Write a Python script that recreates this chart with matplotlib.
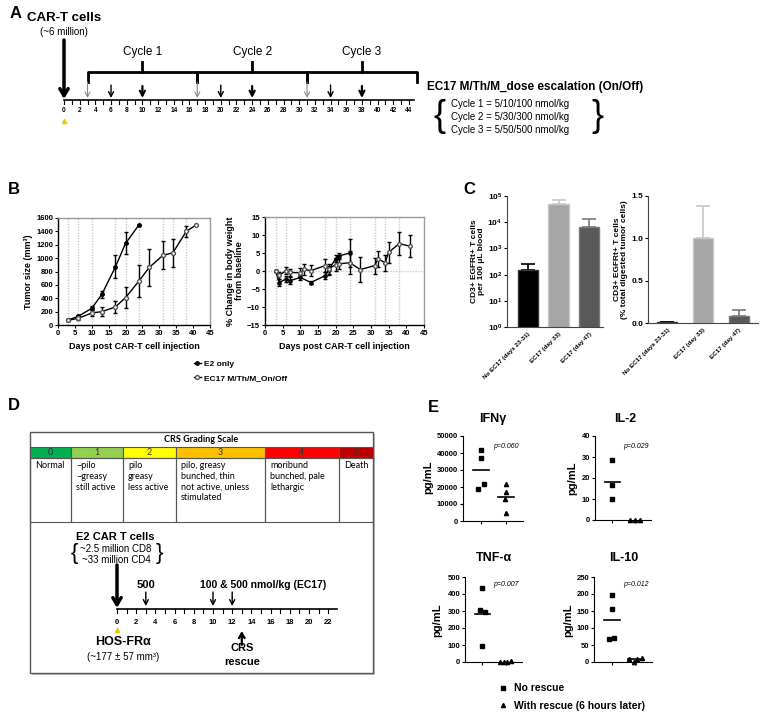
import numpy as np
import matplotlib
matplotlib.use("Agg")
import matplotlib.pyplot as plt
from matplotlib.patches import Rectangle
from matplotlib.lines import Line2D
from matplotlib.ticker import NullLocator

plt.rcParams['font.family'] = ['Liberation Sans', 'DejaVu Sans']
plt.rcParams['font.weight'] = 'bold'
plt.rcParams['axes.labelweight'] = 'bold'
plt.rcParams['mathtext.fontset'] = 'custom'
plt.rcParams['mathtext.rm'] = 'Liberation Sans:bold'
plt.rcParams['mathtext.bf'] = 'Liberation Sans:bold'
plt.rcParams['mathtext.it'] = 'Liberation Sans:italic'
plt.rcParams['mathtext.default'] = 'rm'

# ---------------- data ----------------
# A: dosing schedule
sched_days = list(range(0, 45))
dose_days = [3, 6, 10, 17, 20, 24, 31, 34, 38]
dose_rank = [0, 1, 2, 0, 1, 2, 0, 1, 2]          # 5 nmol / mid / high dose
cycle_start = [3, 17, 31]
cycle_end = [17, 31, 45]
cycle_names = ['Cycle 1', 'Cycle 2', 'Cycle 3']
cycle_doses = ['Cycle 1 = 5/10/100 nmol/kg',
               'Cycle 2 = 5/30/300 nmol/kg',
               'Cycle 3 = 5/50/500 nmol/kg']

# B: tumour size
tum_days_e2 = [3, 6, 10, 13, 17, 20, 24]
tum_e2 = [75, 130, 250, 460, 870, 1220, 1500]
tum_e2_err = [10, 20, 30, 50, 170, 165, 0]
tum_days_ec = [3, 6, 10, 13, 17, 20, 24, 27, 31, 34, 38, 41]
tum_ec = [70, 100, 180, 200, 270, 410, 660, 860, 1040, 1080, 1400, 1500]
tum_ec_err = [10, 20, 40, 65, 95, 155, 240, 270, 210, 210, 80, 0]

# B: body weight
bw_days_e2 = [3, 4, 6, 7, 10, 13, 17, 18, 20, 21, 24]
bw_e2 = [0, -3.2, -2.2, -2.7, -1.8, -3.2, -1.3, 0.3, 3.4, 4.2, 5.0]
bw_e2_err = [0.2, 0.9, 0.8, 0.9, 0.7, 0.4, 1.0, 1.0, 1.0, 0.8, 3.8]
bw_days_ec = [3, 4, 6, 7, 10, 11, 13, 17, 18, 20, 21, 24, 27, 31, 32, 34, 35, 38, 41]
bw_ec = [0, -1.2, 0.1, -0.4, -0.5, 0.5, 0.1, 1.5, 0.5, 1.8, 2.0, 2.3, 0.4, 1.5, 3.4, 2.3, 5.2, 7.6, 6.9]
bw_ec_err = [0.2, 0.9, 0.9, 1.0, 1.3, 1.5, 1.5, 1.9, 1.5, 1.8, 1.5, 3.2, 3.4, 2.2, 2.2, 2.2, 2.9, 3.2, 3.0]

# C: CAR-T persistence
c_groups = ['No EC17 (days 23-31)', 'EC17 (day 33)', 'EC17 (day 47)']
c_blood = [150, 50000, 6500]
c_blood_err = [100, 20000, 6500]
c_tumor = [0.01, 1.0, 0.08]
c_tumor_err = [0.005, 0.38, 0.07]
c_colors = ['#000000', '#a6a6a6', '#595959']
c_edges = ['#333333', '#c8c8c8', '#7a7a7a']

# D: CRS grading scale
crs_grades = ['0', '1', '2', '3', '4', '5']
crs_colors = ['#00b050', '#92d050', '#ffff00', '#ffc000', '#ff0000', '#c00000']
crs_signs = ['Normal', '~pilo\n~greasy\nstill active', 'pilo\ngreasy\nless active',
             'pilo, greasy\nbunched, thin\nnot active, unless\nstimulated',
             'moribund\nbunched, pale\nlethargic', 'Death']
d_days = list(range(0, 23))
d_dose_days = [3, 10, 12]
d_rescue_day = 13

# E: cytokines
cyto_names = ['IFNγ', 'IL-2', 'TNF-α', 'IL-10']
cyto_no = [[41500, 37000, 19000, 21500], [28.5, 16.5, 10], [435, 305, 295, 95], [198, 157, 72, 67]]
cyto_no_x = [[0, 0, -0.12, 0.12], [0, 0, 0], [0, -0.12, 0.12, 0], [0, 0, 0.1, -0.1]]
cyto_res = [[22000, 17000, 13000, 5000], [0, 0, 0], [0, 0, 0, 5], [10, 0, 10, 12]]
cyto_res_x = [[0, 0, -0.05, 0], [-0.2, 0, 0.2], [-0.25, -0.08, 0.06, 0.24], [-0.29, -0.08, 0.08, 0.29]]
cyto_p = ['p=0.060', 'p=0.029', 'p=0.007', 'p=0.012']
cyto_ymax = [50000, 40, 500, 250]
cyto_step = [10000, 10, 100, 50]

# ---------------- figure ----------------
W, H = 764, 716
fig = plt.figure(figsize=(W / 100, H / 100), dpi=100)


def px_axes(x0, y0, x1, y1):
    return fig.add_axes([x0 / W, 1 - y1 / H, (x1 - x0) / W, (y1 - y0) / H])


cv = px_axes(0, 0, W, H)
cv.set_xlim(0, W)
cv.set_ylim(H, 0)
cv.axis('off')

for lab, x, y in [('A', 10, 14), ('B', 8, 190), ('C', 463, 190), ('D', 8, 405), ('E', 428, 407)]:
    cv.text(x, y, lab, fontsize=12, va='center', ha='left')

# ---- A ----
axA = px_axes(0, 0, W, 160)
d0, ppd = 64, 7.84
axA.set_xlim(-d0 / ppd, (W - d0) / ppd)
axA.set_ylim(160, 0)
axA.axis('off')
axA.plot([0, 44.6], [100, 100], color='k', lw=1.2)
for d in sched_days:
    axA.plot([d, d], [100, 104], color='k', lw=0.8)
    if d % 2 == 0:
        axA.text(d, 111, str(d), ha='center', va='center', fontsize=4.8)
axA.plot(0, 121, '^', color='#e8c800', ms=3)
arrow_col = ['#8a8a8a', 'k', 'k']
arrow_lw = [0.8, 1.0, 1.6]
arrow_top = [82, 85, 86]
for d, r in zip(dose_days, dose_rank):
    axA.annotate('', xy=(d, 98), xytext=(d, arrow_top[r]),
                 arrowprops=dict(arrowstyle='->,head_length=0.35,head_width=0.18',
                                 color=arrow_col[r], lw=arrow_lw[r], shrinkA=0, shrinkB=0))
for s, e, name in zip(cycle_start, cycle_end, cycle_names):
    m = (s + e) / 2
    axA.plot([s, s, e, e], [82, 72, 72, 82], color='k', lw=2)
    axA.plot([m, m], [72, 62], color='k', lw=2)
    axA.text(m, 52, name, ha='center', va='center', fontsize=8.5, fontweight='normal')
axA.annotate('', xy=(0, 99), xytext=(0, 40),
             arrowprops=dict(arrowstyle='->,head_length=0.5,head_width=0.3',
                             color='k', lw=2.5, shrinkA=0, shrinkB=0))
cv.text(64, 18, 'CAR-T cells', ha='center', va='center', fontsize=9.5)
cv.text(64, 32, '(~6 million)', ha='center', va='center', fontsize=7, fontweight='normal')
cv.text(427, 87, 'EC17 M/Th/M_dose escalation (On/Off)', va='center', fontsize=8.5)
cv.text(440, 117, '{', va='center', ha='center', fontsize=26, fontweight='normal')
cv.text(597, 117, '}', va='center', ha='center', fontsize=26, fontweight='normal')
for i, s in enumerate(cycle_doses):
    cv.text(451, 104 + 13 * i, s, va='center', fontsize=7, fontweight='normal')


# ---- B ----
def style_box(ax):
    for side in ['left', 'bottom']:
        ax.spines[side].set_color('k')
        ax.spines[side].set_linewidth(1)
    for side in ['top', 'right']:
        ax.spines[side].set_color('#9a9a9a')
        ax.spines[side].set_linewidth(1)
    ax.tick_params(labelsize=5.5, length=2.5, width=0.8, pad=1)


axB1 = px_axes(58, 218, 210, 325)
axB2 = px_axes(265, 217, 424, 325)
for ax in (axB1, axB2):
    for d in dose_days:
        ax.axvline(d, color='#c8c8c8', lw=1, ls=(0, (1, 1)), zorder=0)
    ax.set_xlim(0, 45)
    ax.set_xticks(range(0, 46, 5))
    ax.set_xlabel('Days post CAR-T cell injection', fontsize=6.5, labelpad=4)
    style_box(ax)

axB1.errorbar(tum_days_e2, tum_e2, yerr=tum_e2_err, fmt='-o', color='k', ms=2.5,
              lw=1, elinewidth=1, capsize=1.5, mfc='k')
axB1.errorbar(tum_days_ec, tum_ec, yerr=tum_ec_err, fmt='-o', color='k', ms=2.8,
              lw=1, elinewidth=1, capsize=1.5, mfc='white', mec='#555555')
axB1.set_ylim(0, 1600)
axB1.set_yticks(range(0, 1601, 200))
axB1.set_ylabel('Tumor size (mm³)', fontsize=6.5, labelpad=2)

axB2.axhline(0, color='#c8c8c8', lw=1, ls=(0, (1, 1)), zorder=0)
axB2.errorbar(bw_days_e2, bw_e2, yerr=bw_e2_err, fmt='-o', color='k', ms=2.3,
              lw=1, elinewidth=1, capsize=1.5, mfc='k')
axB2.errorbar(bw_days_ec, bw_ec, yerr=bw_ec_err, fmt='-o', color='k', ms=2.6,
              lw=1, elinewidth=1, capsize=1.5, mfc='white', mec='#555555')
axB2.set_ylim(-15, 15)
axB2.set_yticks(range(-15, 16, 5))
axB2.set_ylabel('% Change in body weight\nfrom baseline', fontsize=6.5, labelpad=2, linespacing=1.0)

b_handles = [Line2D([], [], color='k', marker='o', ms=2.5, lw=1, mfc='k'),
             Line2D([], [], color='k', marker='o', ms=2.8, lw=1, mfc='white', mec='#555555')]
fig.legend(b_handles, ['E2 only', 'EC17 M/Th/M_On/Off'], loc='center left',
           bbox_to_anchor=(194 / W, 1 - 371 / H), frameon=False, fontsize=6,
           handlelength=0.8, handletextpad=0.4, labelspacing=0.8, borderpad=0, borderaxespad=0)

# ---- C ----
axC1 = px_axes(507, 196, 603, 327)
axC2 = px_axes(648, 196, 758, 323)
for i in range(3):
    axC1.bar(i, c_blood[i], width=0.68, color=c_colors[i], edgecolor=c_edges[i], lw=1, zorder=2)
    axC1.errorbar(i, c_blood[i], yerr=[[0], [c_blood_err[i]]], color=c_edges[i] if i else 'k',
                  capsize=5, lw=1.2, capthick=1.2, zorder=1)
    axC2.bar(i, c_tumor[i], width=0.56, color=c_colors[i], edgecolor=c_edges[i], lw=1, zorder=2)
    axC2.errorbar(i, c_tumor[i], yerr=[[0], [c_tumor_err[i]]], color=c_edges[i] if i else 'k',
                  capsize=5, lw=1.2, capthick=1.2, zorder=1)
axC1.set_yscale('log')
axC1.set_ylim(1, 1e5)
axC1.set_yticks([10 ** k for k in range(6)])
axC1.set_yticklabels(['$10^{%d}$' % k for k in range(6)])
axC1.yaxis.set_minor_locator(NullLocator())
axC1.set_xlim(-0.69, 2.46)
axC1.set_ylabel('CD3+ EGFRt+ T cells\nper 100 μL blood', fontsize=6, labelpad=2, linespacing=1.0)
axC2.set_ylim(0, 1.5)
axC2.set_yticks([0, 0.5, 1.0, 1.5])
axC2.set_yticklabels(['0.0', '0.5', '1.0', '1.5'])
axC2.set_xlim(-0.53, 2.53)
axC2.set_ylabel('CD3+ EGFRt+ T cells\n(% total digested tumor cells)', fontsize=6, labelpad=2,
                linespacing=1.0)
for ax in (axC1, axC2):
    ax.spines['top'].set_visible(False)
    ax.spines['right'].set_visible(False)
    ax.spines['left'].set_color('#444444')
    ax.spines['bottom'].set_color('#444444')
    ax.tick_params(axis='y', labelsize=6, length=2.5, width=0.8, pad=1)
    ax.set_xticks(range(3))
    ax.set_xticklabels(c_groups, rotation=45, ha='right', rotation_mode='anchor', fontsize=4.5)
    ax.tick_params(axis='x', length=0, pad=3)

# ---- D ----
cv.add_patch(Rectangle((32, 434), 343, 241, facecolor='#c4c4c4', lw=0))
cv.add_patch(Rectangle((30, 432), 343, 241, facecolor='white', edgecolor='#555555', lw=1))
cv.text(201, 440, 'CRS Grading Scale', ha='center', va='center', fontsize=6.5,
        family=['Lato', 'DejaVu Sans'], fontweight='bold')
col_edges = [30, 71, 123, 176, 265, 339, 373]
for i in range(6):
    x0, x1 = col_edges[i], col_edges[i + 1]
    cv.add_patch(Rectangle((x0, 447), x1 - x0, 11, facecolor=crs_colors[i], edgecolor='#555555', lw=0.8))
    cv.text((x0 + x1) / 2, 452.5, crs_grades[i], ha='center', va='center', fontsize=6.5,
            family=['Lato', 'DejaVu Sans'], fontweight='normal', color='#333333')
    cv.add_patch(Rectangle((x0, 458), x1 - x0, 64, facecolor='none', edgecolor='#555555', lw=0.8))
    cv.text(x0 + 5, 461, crs_signs[i], ha='left', va='top', fontsize=6.5, linespacing=1.25,
            family=['Lato', 'DejaVu Sans'], fontweight='normal')

axD = px_axes(0, 523, W, 673)
dd0, dppd = 117, 9.6
axD.set_xlim(-dd0 / dppd, (W - dd0) / dppd)
axD.set_ylim(673, 523)
axD.axis('off')
axD.plot([0, 22.9], [609, 609], color='k', lw=1.2)
for d in d_days:
    axD.plot([d, d], [609, 613], color='k', lw=0.8)
    if d % 2 == 0:
        axD.text(d, 623, str(d), ha='center', va='center', fontsize=5.5)
axD.plot(0, 630, '^', color='#e8c800', ms=3)
axD.annotate('', xy=(0, 608), xytext=(0, 565),
             arrowprops=dict(arrowstyle='->,head_length=0.5,head_width=0.3',
                             color='k', lw=2.5, shrinkA=0, shrinkB=0))
for d in d_dose_days:
    axD.annotate('', xy=(d, 606), xytext=(d, 592),
                 arrowprops=dict(arrowstyle='->,head_length=0.35,head_width=0.18',
                                 color='k', lw=1, shrinkA=0, shrinkB=0))
axD.annotate('', xy=(d_rescue_day, 631), xytext=(d_rescue_day, 645),
             arrowprops=dict(arrowstyle='->,head_length=0.35,head_width=0.2',
                             color='k', lw=1.6, shrinkA=0, shrinkB=0))
axD.text(d_rescue_day, 648, 'CRS', ha='center', va='center', fontsize=8)
axD.text(d_rescue_day, 662, 'rescue', ha='center', va='center', fontsize=8)
axD.text(d_dose_days[0], 585, '500', ha='center', va='center', fontsize=8)
cv.text(263, 585, '100 & 500 nmol/kg (EC17)', ha='center', va='center', fontsize=7.5)
cv.text(115, 537, 'E2 CAR T cells', ha='center', va='center', fontsize=8)
cv.text(116, 549, '~2.5 million CD8', ha='center', va='center', fontsize=7, fontweight='normal')
cv.text(116, 560, '~33 million CD4', ha='center', va='center', fontsize=7, fontweight='normal')
cv.text(74, 554, '{', ha='center', va='center', fontsize=16, fontweight='normal')
cv.text(159, 554, '}', ha='center', va='center', fontsize=16, fontweight='normal')
cv.text(123, 642, 'HOS-FRα', ha='center', va='center', fontsize=9)
cv.text(123, 657, '(~177 ± 57 mm³)', ha='center', va='center', fontsize=7, fontweight='normal')

# ---- E ----
e_boxes = [(463, 436, 523, 521), (595, 436, 651, 520), (465, 577, 522, 662), (594, 577, 652, 662)]
e_title_pos = [(493, 419), (625, 419), (494, 558), (624, 558)]
e_p_pos = [(493, 446), (623, 446), (493, 585), (623, 585)]
e_ylab_pos = [(428, 477), (572, 478), (437, 620), (568, 620)]
for k in range(4):
    ax = px_axes(*e_boxes[k])
    ax.set_facecolor('none')
    ax.plot(cyto_no_x[k], cyto_no[k], 's', color='k', ms=3.5, clip_on=False)
    ax.plot(1 + np.array(cyto_res_x[k]), cyto_res[k], '^', color='k', ms=3, clip_on=False)
    for g, vals in enumerate([cyto_no[k], cyto_res[k]]):
        m = np.mean(vals)
        if m > 0.02 * cyto_ymax[k]:
            ax.plot([g - 0.33, g + 0.33], [m, m], color='k', lw=1.2)
    ax.set_xlim(-0.75, 1.7)
    ax.set_ylim(0, cyto_ymax[k])
    ax.set_yticks(np.arange(0, cyto_ymax[k] + 1, cyto_step[k]))
    ax.set_xticks([0, 1])
    ax.set_xticklabels([])
    ax.spines['top'].set_visible(False)
    ax.spines['right'].set_visible(False)
    ax.tick_params(labelsize=5.5, length=2.5, width=0.8, pad=1)
    ax.text(*e_p_pos[k], cyto_p[k], transform=cv.transData, ha='left', va='center',
            fontsize=5, fontweight='normal', fontstyle='italic')
    cv.text(*e_title_pos[k], cyto_names[k], ha='center', va='center', fontsize=9)
    cv.text(*e_ylab_pos[k], 'pg/mL', ha='center', va='center', fontsize=8, rotation=90)

e_handles = [Line2D([], [], color='k', marker='s', ms=3.5, lw=0),
             Line2D([], [], color='k', marker='^', ms=3, lw=0)]
fig.legend(e_handles, ['No rescue', 'With rescue (6 hours later)'], loc='center left',
           bbox_to_anchor=(499 / W, 1 - 697 / H), frameon=False, fontsize=7.5,
           handlelength=0.8, handletextpad=0.6, labelspacing=0.7, borderpad=0, borderaxespad=0)

fig.savefig('out.png', dpi=100)
